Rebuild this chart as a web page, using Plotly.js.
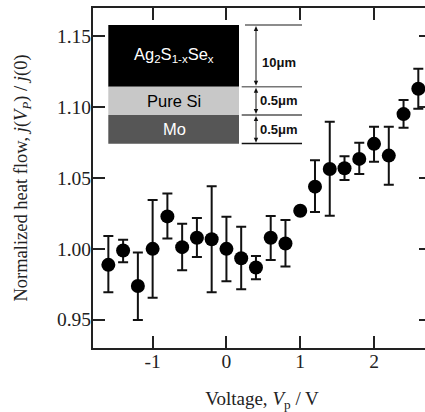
<!DOCTYPE html>
<html>
<head>
<meta charset="utf-8">
<script src="https://cdn.plot.ly/plotly-3.0.1.min.js"></script>
<style>
html,body{margin:0;padding:0;overflow:hidden;background:#fff;}
#chart{width:432px;height:412px;}
</style>
</head>
<body>
<div id="chart"></div>
<script>
// Data
var voltage = [-1.6,-1.4,-1.2,-1.0,-0.8,-0.6,-0.4,-0.2,0.0,0.2,0.4,0.6,0.8,1.0,1.2,1.4,1.6,1.8,2.0,2.2,2.4,2.6];
var heatFlow = [0.9887,0.9988,0.9738,1.0000,1.0229,1.0012,1.0078,1.0068,1.0000,0.9934,0.9868,1.0078,1.0038,1.0269,1.0439,1.0564,1.0569,1.0635,1.0741,1.0658,1.0951,1.1130];
var errPlus = [0.0203,0.0076,0.0236,0.0345,0.0161,0.0165,0.0139,0.0373,0.0227,0.0222,0.0082,0.0153,0.0165,0.0,0.0186,0.0333,0.0085,0.0113,0.0120,0.0203,0.0099,0.0142];
var errMinus = [0.0194,0.0082,0.0241,0.0345,0.0156,0.0163,0.0135,0.0375,0.0229,0.0220,0.0083,0.0156,0.0163,0.0,0.0179,0.0330,0.0083,0.0106,0.0127,0.0205,0.0097,0.0141];
var xTickVals = [-1,0,1,2];
var xTickText = ["-1","0","1","2"];
var yTickVals = [0.95,1.00,1.05,1.10,1.15];
var yTickText = ["0.95","1.00","1.05","1.10","1.15"];
var layerNames = ["Ag<sub>2</sub>S<sub>1-x</sub>Se<sub>x</sub>","Pure Si","Mo"];
var layerThick = ["10μm","0.5μm","0.5μm"];

// pixel -> paper helpers (plot area 93..431 x 8..348)
function X(px){return (px-93)/338;}
function Y(py){return (348-py)/340;}
function P(px,py){return X(px)+','+Y(py);}

var serif = "Liberation Serif, Times New Roman, serif";
var sans = "Liberation Sans, Arial, Helvetica, sans-serif";

var trace = {
  x: voltage, y: heatFlow, type: 'scatter', mode: 'markers',
  marker: {color: '#000', size: 14},
  error_y: {type: 'data', symmetric: false, array: errPlus, arrayminus: errMinus,
            color: '#111', thickness: 2, width: 5},
  hoverinfo: 'skip', showlegend: false
};

var layerTop = [25, 86.7, 115];
var layerBot = [86.7, 115, 143.7];
var layerFill = ['#000000', '#c8c8c8', '#565656'];
var layerText = ['#ffffff', '#000000', '#ffffff'];

var shapes = [];
var annotations = [];
var ax = 256;
for (var i = 0; i < 3; i++) {
  shapes.push({type:'rect', xref:'paper', yref:'paper',
    x0: X(108.3), x1: X(239), y0: Y(layerBot[i]), y1: Y(layerTop[i]),
    fillcolor: layerFill[i], line: {width: 0}});
  annotations.push({xref:'paper', yref:'paper', x: X(174), y: Y((layerTop[i]+layerBot[i])/2 + (i===0?-1:0)),
    text: layerNames[i], showarrow:false, xanchor:'center', yanchor:'middle',
    font:{family: sans, size: 16.5, color: layerText[i]}});
  // thickness label
  annotations.push({xref:'paper', yref:'paper', x: X(279), y: Y(i===0 ? 62 : (layerTop[i]+layerBot[i])/2),
    text: '<b>'+layerThick[i]+'</b>', showarrow:false, xanchor:'center', yanchor:'middle',
    font:{family: sans, size: 13, color: '#111'}});
  // double arrow: shaft + two heads
  var t = layerTop[i] + 1, b = layerBot[i] - 1;
  shapes.push({type:'line', xref:'paper', yref:'paper',
    x0: X(ax), x1: X(ax), y0: Y(t+3), y1: Y(b-3), line:{color:'#111', width:1}});
  shapes.push({type:'path', xref:'paper', yref:'paper',
    path: 'M'+P(ax,t)+' L'+P(ax-2.2,t+5)+' L'+P(ax+2.2,t+5)+' Z',
    fillcolor:'#111', line:{width:0}});
  shapes.push({type:'path', xref:'paper', yref:'paper',
    path: 'M'+P(ax,b)+' L'+P(ax-2.2,b-5)+' L'+P(ax+2.2,b-5)+' Z',
    fillcolor:'#111', line:{width:0}});
}
var lineY = [25, 86.7, 115, 143.5];
var lineX0 = [245, 241.7, 241.7, 241.7];
var lineCol = ['#666', '#777', '#555', '#111'];
for (var j = 0; j < 4; j++) {
  shapes.push({type:'line', xref:'paper', yref:'paper',
    x0: X(lineX0[j]), x1: X(302), y0: Y(lineY[j]), y1: Y(lineY[j]),
    line:{color: lineCol[j], width: 1.5}});
}

var axisCommon = {
  showline: true, linecolor: '#222', linewidth: 2, mirror: 'ticks',
  ticks: 'inside', ticklen: 12, tickwidth: 2, tickcolor: '#222',
  showgrid: false, zeroline: false,
  tickfont: {family: serif, size: 19.5, color: '#222'}
};

var layout = {
  width: 432, height: 412,
  margin: {l: 93, r: 1, t: 8, b: 64},
  paper_bgcolor: '#fff', plot_bgcolor: '#fff',
  xaxis: Object.assign({}, axisCommon, {
    range: [-1.808, 2.772], tickmode: 'array', tickvals: xTickVals, ticktext: xTickText,
    ticklabelstandoff: -5,
    title: {text: 'Voltage, <i>V</i><sub>p</sub> / V', font: {family: serif, size: 19, color: '#222'}, standoff: 20}
  }),
  yaxis: Object.assign({}, axisCommon, {
    range: [0.930, 1.170], tickmode: 'array', tickvals: yTickVals, ticktext: yTickText,
    ticklabelstandoff: -4,
    title: {text: 'Normalized heat flow, <i>j</i>(<i>V<sub>P</sub></i>) / <i>j</i>(0)', font: {family: serif, size: 18.5, color: '#222'}, standoff: 24}
  }),
  shapes: shapes,
  annotations: annotations
};

Plotly.newPlot('chart', [trace], layout, {displayModeBar: false, staticPlot: true});
</script>
</body>
</html>
